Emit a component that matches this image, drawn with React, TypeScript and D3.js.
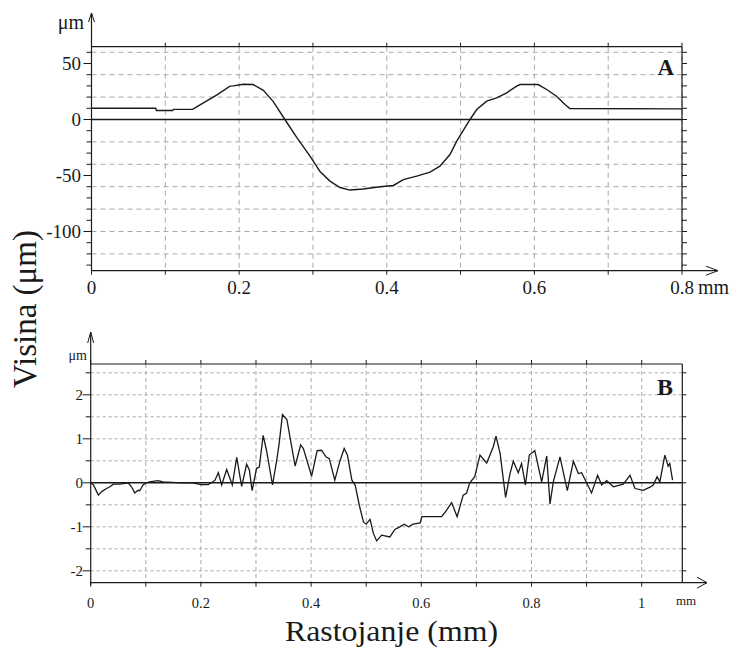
import React from "react";
import * as d3 from "d3";

// ---- Panel A data ----
const profileAX = [0, 0.087, 0.088, 0.11, 0.111, 0.137, 0.147, 0.17, 0.1876, 0.192, 0.2057, 0.219, 0.2328, 0.2463, 0.262, 0.278, 0.296, 0.3096, 0.323, 0.3367, 0.3502, 0.368, 0.391, 0.409, 0.4225, 0.4406, 0.4586, 0.472, 0.4857, 0.4948, 0.5128, 0.5219, 0.5354, 0.549, 0.5625, 0.576, 0.5805, 0.605, 0.6167, 0.63, 0.6415, 0.648, 0.8];
const profileAY = [10, 10, 8, 8, 9, 9, 13, 22, 29.8, 30, 31.5, 31.2, 26, 16, 0, -16, -32.7, -46.4, -55, -60.7, -63, -62, -60, -58.9, -53.6, -50.6, -47, -41.7, -31.3, -19.3, 0, 8.9, 16.4, 19.3, 23.8, 29.8, 31.2, 31.2, 26.8, 20.8, 13.4, 9.8, 9.5];
const ticksAX = [0, 0.2, 0.4, 0.6, 0.8];
const tickLabelsAX = ["0", "0.2", "0.4", "0.6", "0.8"];
const ticksAY = [50, 0, -50, -100];
const tickLabelsAY = ["50", "0", "-50", "-100"];

// ---- Panel B data ----
const profileBX = [0, 0.005, 0.0139, 0.02, 0.0287, 0.035, 0.041, 0.053, 0.068, 0.074, 0.08, 0.086, 0.089, 0.095, 0.101, 0.107, 0.122, 0.131, 0.164, 0.185, 0.2, 0.213, 0.219, 0.2256, 0.2316, 0.2377, 0.2468, 0.257, 0.265, 0.274, 0.283, 0.288, 0.293, 0.301, 0.306, 0.313, 0.319, 0.33, 0.3376, 0.342, 0.348, 0.356, 0.371, 0.381, 0.386, 0.401, 0.411, 0.419, 0.427, 0.433, 0.443, 0.452, 0.46, 0.466, 0.474, 0.48, 0.4875, 0.495, 0.5, 0.507, 0.513, 0.519, 0.528, 0.543, 0.552, 0.561, 0.569, 0.577, 0.585, 0.598, 0.601, 0.637, 0.646, 0.655, 0.665, 0.676, 0.682, 0.688, 0.697, 0.7065, 0.7187, 0.7307, 0.7356, 0.743, 0.753, 0.761, 0.767, 0.776, 0.782, 0.789, 0.796, 0.806, 0.8185, 0.8276, 0.8336, 0.8396, 0.8517, 0.865, 0.876, 0.885, 0.891, 0.9, 0.909, 0.92, 0.9274, 0.9365, 0.9485, 0.9666, 0.9788, 0.9878, 1.003, 1.015, 1.021, 1.028, 1.033, 1.042, 1.048, 1.051, 1.056];
const profileBY = [0, -0.05, -0.28, -0.2, -0.13, -0.09, -0.03, -0.03, 0, -0.09, -0.23, -0.17, -0.18, -0.05, 0, 0.02, 0.05, 0.02, 0, 0, -0.04, -0.04, 0, 0.06, 0.23, -0.05, 0.3, -0.05, 0.58, -0.08, 0.42, 0.29, -0.18, 0.33, 0.36, 1.08, 0.74, -0.05, 0.51, 0.89, 1.55, 1.44, 0.38, 0.86, 0.78, 0.15, 0.73, 0.74, 0.59, 0.55, 0.06, 0.48, 0.78, 0.63, 0.06, -0.05, -0.51, -0.89, -0.94, -0.83, -1.15, -1.32, -1.19, -1.23, -1.06, -1.0, -0.94, -1.0, -0.94, -0.91, -0.77, -0.77, -0.62, -0.45, -0.77, -0.28, -0.24, 0, 0.14, 0.63, 0.45, 0.82, 1.06, 0.67, -0.33, 0.21, 0.49, 0.23, 0.44, -0.05, 0.63, 0.73, 0.02, 0.61, -0.48, 0.02, 0.59, -0.18, 0.49, 0.21, 0.23, 0, -0.23, 0.17, -0.05, 0.05, -0.09, -0.03, 0.17, -0.13, -0.17, -0.1, -0.05, 0.14, 0.02, 0.63, 0.38, 0.44, 0.06];
const ticksBX = [0, 0.2, 0.4, 0.6, 0.8, 1];
const tickLabelsBX = ["0", "0.2", "0.4", "0.6", "0.8", "1"];
const ticksBY = [2, 1, 0, -1, -2];
const tickLabelsBY = ["2", "1", "0", "-1", "-2"];

const FONT = "'Liberation Serif', 'Times New Roman', serif";
const GRID = "#a8a8a8";
const INK = "#1a1a1a";

function range(a: number, b: number, step: number) {
  const out: number[] = [];
  for (let v = a; v <= b + 1e-9; v += step) out.push(+v.toFixed(4));
  return out;
}

export default function App() {
  // Panel A scales
  const xA = d3.scaleLinear().domain([0, 0.8]).range([91.5, 682]);
  const yA = d3.scaleLinear().domain([-135, 65]).range([270.7, 46.7]);
  // Panel B scales
  const xB = d3.scaleLinear().domain([0, 1.0737]).range([90.7, 682.3]);
  const yB = d3.scaleLinear().domain([-2.27, 2.7]).range([582.7, 364]);

  const lineA = d3.line<number>().x((_, i) => xA(profileAX[i])).y((d) => yA(d));
  const lineB = d3.line<number>().x((_, i) => xB(profileBX[i])).y((d) => yB(d));

  const [ax0, ax1] = xA.range();
  const [ayB, ayT] = yA.range();
  const [bx0, bx1] = xB.range();
  const [byB, byT] = yB.range();

  const gridAX = range(0.1, 0.8, 0.1);
  const gridAY = range(-120, 60, 20).filter((v) => Math.abs(v) > 1e-6);
  const minorAY = range(-130, 60, 10);
  const gridBX = range(0.1, 1.0, 0.1);
  const gridBY = range(-2, 2.5, 0.5).filter((v) => Math.abs(v) > 1e-6);
  const minorBY = range(-2, 2.5, 0.5);

  return (
    <svg
      width={732}
      height={649}
      style={{ position: "absolute", left: 0, top: 0, background: "#fff" }}
      fontFamily={FONT}
    >
      <rect x={0} y={0} width={732} height={649} fill="#fff" />
      {/* ================= Panel A ================= */}
      <g>
        {gridAX.map((v) => (
          <line key={"gax" + v} x1={xA(v)} x2={xA(v)} y1={ayT} y2={ayB} stroke={GRID} strokeWidth={1} strokeDasharray="5,4" />
        ))}
        {gridAY.map((v) => (
          <line key={"gay" + v} x1={ax0} x2={ax1} y1={yA(v)} y2={yA(v)} stroke={GRID} strokeWidth={1} strokeDasharray="5,4" />
        ))}
        {/* frame */}
        <line x1={ax0} x2={ax1} y1={ayT} y2={ayT} stroke={INK} strokeWidth={1.2} />
        <line x1={ax1} x2={ax1} y1={ayT} y2={ayB} stroke={INK} strokeWidth={1.2} />
        {/* zero line */}
        <line x1={ax0} x2={ax1} y1={yA(0)} y2={yA(0)} stroke={INK} strokeWidth={1.3} />
        {/* left ticks */}
        {minorAY.map((v) => (
          <line key={"lta" + v} x1={ax0 - (v % 50 === 0 ? 8 : 5)} x2={ax0} y1={yA(v)} y2={yA(v)} stroke={INK} strokeWidth={1} />
        ))}
        {/* right ticks */}
        {minorAY.map((v) => (
          <line key={"rta" + v} x1={ax1} x2={ax1 + 5} y1={yA(v)} y2={yA(v)} stroke={INK} strokeWidth={1} />
        ))}
        {/* top & bottom x ticks */}
        {range(0, 0.8, 0.1).map((v) => (
          <g key={"xta" + v}>
            <line x1={xA(v)} x2={xA(v)} y1={ayT - 4} y2={ayT} stroke={INK} strokeWidth={1} />
            <line x1={xA(v)} x2={xA(v)} y1={ayB} y2={ayB + 4} stroke={INK} strokeWidth={1} />
          </g>
        ))}
        {/* axes with arrows */}
        <line x1={ax0} x2={ax0} y1={ayB} y2={13} stroke={INK} strokeWidth={1.2} />
        <polyline points={`${ax0 - 3},22 ${ax0},13 ${ax0 + 3},22`} fill="none" stroke={INK} strokeWidth={1} />
        <line x1={ax0} x2={718} y1={ayB} y2={ayB} stroke={INK} strokeWidth={1.3} />
        <polyline points={`706,${ayB - 4.5} 718,${ayB} 706,${ayB + 4.5}`} fill="none" stroke={INK} strokeWidth={1} />
        {/* labels */}
        {ticksAY.map((v, i) => (
          <text key={"tya" + v} x={81} y={yA(v)} dy="0.34em" textAnchor="end" fontSize={19} fill={INK}>
            {tickLabelsAY[i]}
          </text>
        ))}
        {ticksAX.map((v, i) => (
          <text key={"txa" + v} x={xA(v)} y={294} textAnchor="middle" fontSize={19} fill={INK}>
            {tickLabelsAX[i]}
          </text>
        ))}
        <text x={698} y={294} fontSize={20} fill={INK}>mm</text>
        <text x={84} y={29} textAnchor="end" fontSize={20} fill={INK}>μm</text>
        <text x={674} y={75} textAnchor="end" fontSize={23} fontWeight="bold" fill={INK}>A</text>
        <path d={lineA(profileAY) ?? ""} fill="none" stroke={INK} strokeWidth={1.4} />
      </g>

      {/* ================= Panel B ================= */}
      <g>
        {gridBX.map((v) => (
          <line key={"gbx" + v} x1={xB(v)} x2={xB(v)} y1={byT} y2={byB} stroke={GRID} strokeWidth={1} strokeDasharray="4,3" />
        ))}
        {gridBY.map((v) => (
          <line key={"gby" + v} x1={bx0} x2={bx1} y1={yB(v)} y2={yB(v)} stroke={GRID} strokeWidth={1} strokeDasharray="3,3" />
        ))}
        <line x1={bx0} x2={bx1} y1={byT} y2={byT} stroke={INK} strokeWidth={1.2} />
        <line x1={bx1} x2={bx1} y1={byT} y2={byB} stroke={INK} strokeWidth={1.2} />
        <line x1={bx0} x2={bx1} y1={yB(0)} y2={yB(0)} stroke={INK} strokeWidth={1.4} />
        {minorBY.map((v) => (
          <line key={"ltb" + v} x1={bx0 - (Number.isInteger(v) ? 8 : 5)} x2={bx0} y1={yB(v)} y2={yB(v)} stroke={INK} strokeWidth={1} />
        ))}
        {minorBY.map((v) => (
          <line key={"rtb" + v} x1={bx1} x2={bx1 + 4} y1={yB(v)} y2={yB(v)} stroke={INK} strokeWidth={1} />
        ))}
        {range(0, 1.0, 0.1).map((v) => (
          <g key={"xtb" + v}>
            <line x1={xB(v)} x2={xB(v)} y1={byT - 4} y2={byT} stroke={INK} strokeWidth={1} />
            <line x1={xB(v)} x2={xB(v)} y1={byB} y2={byB + 4} stroke={INK} strokeWidth={1} />
          </g>
        ))}
        <line x1={bx0} x2={bx0} y1={byB + 2} y2={332} stroke={INK} strokeWidth={1.2} />
        <polyline points={`${bx0 - 3},343 ${bx0},332 ${bx0 + 3},343`} fill="none" stroke={INK} strokeWidth={1} />
        <line x1={bx0} x2={707} y1={byB} y2={byB} stroke={INK} strokeWidth={1.3} />
        <polyline points={`697,${byB - 5.5} 707,${byB} 697,${byB + 5.5}`} fill="none" stroke={INK} strokeWidth={1} />
        {ticksBY.map((v, i) => (
          <text key={"tyb" + v} x={83} y={yB(v)} dy="0.34em" textAnchor="end" fontSize={15} fill={INK}>
            {tickLabelsBY[i]}
          </text>
        ))}
        {ticksBX.map((v, i) => (
          <text key={"txb" + v} x={xB(v)} y={608} textAnchor="middle" fontSize={14.5} fill={INK}>
            {tickLabelsBX[i]}
          </text>
        ))}
        <text x={676} y={605} fontSize={13} fill={INK}>mm</text>
        <text x={87} y={360} textAnchor="end" fontSize={14} fill={INK}>μm</text>
        <text x={673} y={395} textAnchor="end" fontSize={24} fontWeight="bold" fill={INK}>B</text>
        <path d={lineB(profileBY) ?? ""} fill="none" stroke={INK} strokeWidth={1.3} />
      </g>

      {/* ================= Shared axis titles ================= */}
      <text transform="translate(36,309) rotate(-90)" textAnchor="middle" fontSize={33} fill={INK}>
        Visina (μm)
      </text>
      <text x={285} y={641} fontSize={30} fill={INK} textLength={213} lengthAdjust="spacingAndGlyphs">
        Rastojanje (mm)
      </text>
    </svg>
  );
}
